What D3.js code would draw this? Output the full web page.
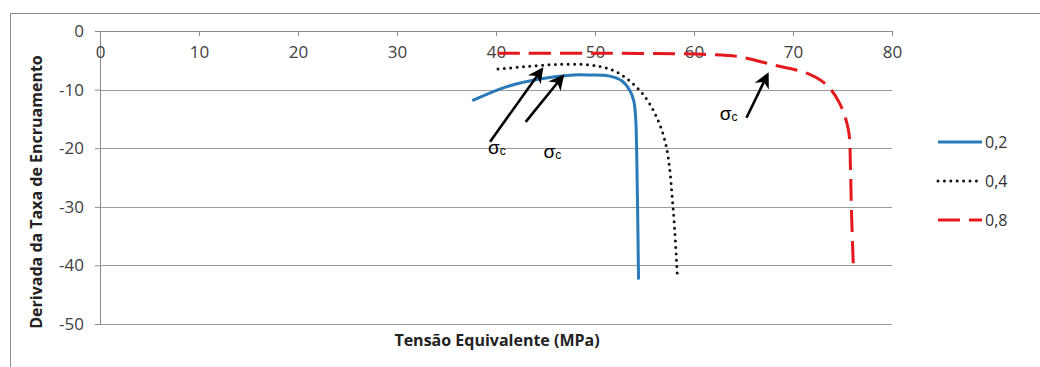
<!DOCTYPE html>
<html>
<head>
<meta charset="utf-8">
<script src="https://cdn.jsdelivr.net/npm/d3@7"></script>
<style>
  body { margin: 0; background: #fff; }
</style>
</head>
<body>
<div id="chart"></div>
<script>
// chart data
var xTicks = [0, 10, 20, 30, 40, 50, 60, 70, 80];
var yTicks = [0, -10, -20, -30, -40, -50];

var names = ["0,2", "0,4", "0,8"];

var x02 = [37.6, 41.1, 44.4, 47.8, 49.5, 51.5, 52.7, 53.5, 53.9, 54.1, 54.2, 54.4];
var y02 = [-11.9, -9.5, -8.2, -7.5, -7.5, -7.7, -8.5, -10.1, -11.8, -14.6, -19.7, -42.4];

var x04 = [40.2, 42.8, 46.1, 49.5, 51.5, 53.2, 54.9, 56.2, 57.2, 57.9, 58.3];
var y04 = [-6.5, -6.1, -5.7, -5.8, -6.5, -8.1, -10.9, -14.6, -19.7, -30.5, -41.3];

var x08 = [40.2, 51.2, 61.3, 64.6, 68.0, 71.4, 73.4, 74.7, 75.6, 75.8, 75.9, 76.1];
var y08 = [-3.8, -3.8, -4.0, -4.4, -5.8, -7.2, -9.2, -12.3, -16.9, -23.1, -30.5, -40.4];

// sigma_c arrows: [x0, y0, x1, y1] in data units, and label anchor
var arrows = [[39.4, -18.9, 44.6, -6.6], [43.0, -15.5, 46.7, -7.8], [65.3, -14.8, 67.4, -7.5]];
var labelPos = [[39.2, -21.0], [44.8, -21.6], [62.6, -15.2]];

var svgWidth = 1040;
var svgHeight = 367;

var margin = { top: 31, right: 148, bottom: 43, left: 100 };
var width = svgWidth - margin.left - margin.right;
var height = svgHeight - margin.top - margin.bottom;

var svg = d3.select("#chart")
  .append("svg")
  .attr("width", svgWidth)
  .attr("height", svgHeight);

// outer frame (only top and left edges show in the picture)
svg.append("path")
  .attr("d", "M10.5," + svgHeight + "V13.5H" + svgWidth)
  .attr("fill", "none")
  .attr("stroke", "#8c8c8c")
  .attr("stroke-width", 1);

var chartGroup = svg.append("g")
  .attr("transform", `translate(${margin.left}, ${margin.top})`);

var xScale = d3.scaleLinear().domain([0, 80]).range([0, width]);
var yScale = d3.scaleLinear().domain([-50, 0]).range([height, 0]);

// horizontal gridlines
chartGroup.selectAll(".grid")
  .data(yTicks.filter(d => d !== 0))
  .enter()
  .append("line")
  .attr("x1", 0)
  .attr("x2", width)
  .attr("y1", d => Math.round(yScale(d)) + 0.5)
  .attr("y2", d => Math.round(yScale(d)) + 0.5)
  .attr("stroke", "#9a9a9a")
  .attr("stroke-width", 1);

// y axis, plain hyphen minus like the original
var yAxis = chartGroup.append("g")
  .call(d3.axisLeft(yScale).tickValues(yTicks).tickSize(5).tickPadding(11)
    .tickFormat(d => String(d)));

// x axis sits on y = 0, ticks hang down, labels below
var xAxis = chartGroup.append("g")
  .attr("transform", `translate(0, ${yScale(0)})`)
  .call(d3.axisBottom(xScale).tickValues(xTicks).tickSize(5).tickPadding(10)
    .tickFormat(d => String(d)));

chartGroup.selectAll(".domain").attr("stroke", "#8c8c8c");
chartGroup.selectAll(".tick line").attr("stroke", "#8c8c8c");
chartGroup.selectAll(".tick text")
  .attr("font-family", "Open Sans, sans-serif")
  .attr("font-size", "17px")
  .attr("fill", "#404040");
xAxis.selectAll(".tick text").attr("dy", "0.72em");

var series = [
  { name: names[0], pts: d3.zip(x02, y02), color: "#2a79b9", dash: null, width: 3, cap: "butt" },
  { name: names[1], pts: d3.zip(x04, y04), color: "#111", dash: "0,6.4", width: 3, cap: "round" },
  { name: names[2], pts: d3.zip(x08, y08), color: "#e3191c", dash: "22,9", width: 3, cap: "butt" }
];

var curve = d3.line()
  .x(d => xScale(d[0]))
  .y(d => yScale(d[1]))
  .curve(d3.curveCatmullRom.alpha(0.5));

chartGroup.selectAll(".series")
  .data(series)
  .enter()
  .append("path")
  .attr("d", d => curve(d.pts))
  .attr("fill", "none")
  .attr("stroke", d => d.color)
  .attr("stroke-width", d => d.width)
  .attr("stroke-dasharray", d => d.dash)
  .attr("stroke-linecap", d => d.cap);

// arrows
svg.append("defs").append("marker")
  .attr("id", "head")
  .attr("viewBox", "0 0 10 10")
  .attr("refX", 8)
  .attr("refY", 5)
  .attr("markerWidth", 6)
  .attr("markerHeight", 6)
  .attr("orient", "auto")
  .append("path")
  .attr("d", "M0,0L10,5L0,10L3,5Z")
  .attr("fill", "#000");

chartGroup.selectAll(".arrow")
  .data(arrows)
  .enter()
  .append("line")
  .attr("x1", d => xScale(d[0]))
  .attr("y1", d => yScale(d[1]))
  .attr("x2", d => xScale(d[2]))
  .attr("y2", d => yScale(d[3]))
  .attr("stroke", "#000")
  .attr("stroke-width", 2.6)
  .attr("marker-end", "url(#head)");

var sig = chartGroup.selectAll(".sig")
  .data(labelPos)
  .enter()
  .append("text")
  .attr("x", d => xScale(d[0]))
  .attr("y", d => yScale(d[1]))
  .attr("font-family", "Liberation Sans, Arial, sans-serif")
  .attr("font-size", "19px")
  .attr("fill", "#000");
sig.append("tspan").text("σ");
sig.append("tspan").attr("font-size", "12px").attr("dy", "1").text("c");

// axis titles
svg.append("text")
  .attr("x", 497)
  .attr("y", 346)
  .attr("text-anchor", "middle")
  .attr("font-family", "Open Sans, sans-serif")
  .attr("font-weight", "bold")
  .attr("font-size", "16px")
  .attr("fill", "#222")
  .text("Tensão Equivalente (MPa)");

svg.append("text")
  .attr("transform", "translate(42, 192) rotate(-90)")
  .attr("text-anchor", "middle")
  .attr("font-family", "Open Sans, sans-serif")
  .attr("font-weight", "bold")
  .attr("font-size", "16px")
  .attr("fill", "#222")
  .text("Derivada da Taxa de Encruamento");

// legend
var legend = svg.selectAll(".legend")
  .data(series)
  .enter()
  .append("g")
  .attr("transform", (d, i) => `translate(938, ${142 + i * 39})`);

legend.append("line")
  .attr("x1", 0)
  .attr("x2", 44)
  .attr("stroke", d => d.color)
  .attr("stroke-width", d => d.width)
  .attr("stroke-dasharray", d => d.dash)
  .attr("stroke-linecap", d => d.cap);

legend.append("text")
  .attr("x", 47)
  .attr("dy", "0.35em")
  .attr("font-family", "Open Sans, sans-serif")
  .attr("font-size", "16px")
  .attr("fill", "#333")
  .text(d => d.name);
</script>
</body>
</html>
